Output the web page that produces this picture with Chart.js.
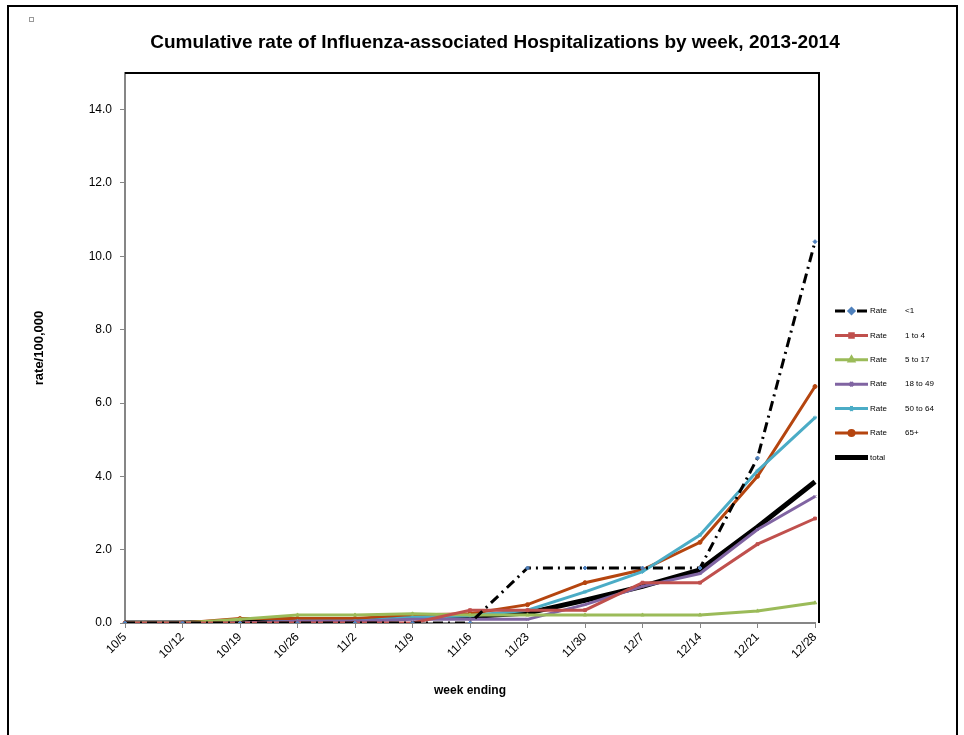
<!DOCTYPE html>
<html>
<head>
<meta charset="utf-8">
<script src="https://cdn.jsdelivr.net/npm/chart.js@4/dist/chart.umd.min.js"></script>
<style>
  html, body { margin: 0; padding: 0; background: #fff; }
</style>
</head>
<body>
<canvas id="flu-chart" width="964" height="735"></canvas>
<script>
// ── Data ──────────────────────────────────────
const chartTitle = 'Cumulative rate of Influenza-associated Hospitalizations by week, 2013-2014';
const weeks = ['10/5', '10/12', '10/19', '10/26', '11/2', '11/9', '11/16', '11/23', '11/30', '12/7', '12/14', '12/21', '12/28'];
const ageGroups = ['<1', '1 to 4', '5 to 17', '18 to 49', '50 to 64', '65+'];

const rateUnder1  = [0, 0, 0, 0, 0, 0, 0, 1.5, 1.5, 1.5, 1.5, 4.5, 10.4];
const rate1to4    = [0, 0, 0, 0, 0, 0, 0.35, 0.35, 0.35, 1.1, 1.1, 2.15, 2.85];
const rate5to17   = [0, 0, 0.1, 0.22, 0.22, 0.25, 0.22, 0.22, 0.22, 0.22, 0.22, 0.33, 0.55];
const rate18to49  = [0, 0, 0, 0.05, 0.05, 0.1, 0.1, 0.1, 0.5, 1.0, 1.35, 2.55, 3.45];
const rate50to64  = [0, 0, 0, 0.05, 0.05, 0.15, 0.2, 0.35, 0.85, 1.4, 2.4, 4.15, 5.6];
const rate65plus  = [0, 0, 0.12, 0.12, 0.12, 0.22, 0.25, 0.5, 1.1, 1.45, 2.2, 4.0, 6.45];
const rateTotal   = [0, 0, 0.03, 0.08, 0.08, 0.15, 0.18, 0.27, 0.62, 1.0, 1.45, 2.62, 3.85];

const yTicks = [0, 2, 4, 6, 8, 10, 12, 14];

// ── Series styling ────────────────────────────
function series(label, data, color, style, extra) {
  return Object.assign({
    label,
    data,
    borderColor: color,
    backgroundColor: color,
    borderWidth: 3,
    pointStyle: style,
    pointRadius: 2,
    pointBorderWidth: 1,
    pointBorderColor: color,
    pointBackgroundColor: color,
    tension: 0
  }, extra || {});
}

const datasets = [
  series(ageGroups[0], rateUnder1, '#000000', 'rectRot', {
    borderDash: [10, 5, 2, 5], pointBorderColor: '#4F81BD', pointBackgroundColor: '#4F81BD'
  }),
  series(ageGroups[1], rate1to4, '#C0504D', 'rect'),
  series(ageGroups[2], rate5to17, '#9BBB59', 'triangle'),
  series(ageGroups[3], rate18to49, '#8064A2', 'crossRot'),
  series(ageGroups[4], rate50to64, '#4BACC6', 'star'),
  series(ageGroups[5], rate65plus, '#B5450F', 'circle'),
  series('total', rateTotal, '#000000', false, { borderWidth: 5, pointRadius: 0 })
];

const FONT = '"Liberation Sans", Arial, sans-serif';

// ── Title, frame, legend and decorations ──────
const decorations = {
  id: 'decorations',
  afterDraw(chart) {
    const ctx = chart.ctx;
    const a = chart.chartArea;
    ctx.save();

    // outer chart border
    ctx.strokeStyle = '#000';
    ctx.lineWidth = 2;
    ctx.strokeRect(8, 6, 949, 740);

    // tiny square top-left
    ctx.strokeStyle = '#999';
    ctx.lineWidth = 1;
    ctx.strokeRect(29.5, 17.5, 4, 4);

    // title
    ctx.fillStyle = '#000';
    ctx.font = 'bold 19px ' + FONT;
    ctx.textAlign = 'center';
    ctx.textBaseline = 'middle';
    ctx.fillText(chartTitle, 495, 43);

    // plot frame top and right
    ctx.strokeStyle = '#000';
    ctx.lineWidth = 2;
    ctx.beginPath();
    ctx.moveTo(a.left, a.top);
    ctx.lineTo(a.right + 4, a.top);
    ctx.lineTo(a.right + 4, a.bottom);
    ctx.stroke();

    // legend
    const x0 = a.right + 20, x1 = x0 + 33;
    chart.data.datasets.forEach((ds, i) => {
      const y = 311 + i * 24.4;
      ctx.strokeStyle = ds.borderColor;
      ctx.lineWidth = ds.borderWidth;
      ctx.setLineDash(ds.borderDash || []);
      ctx.beginPath();
      ctx.moveTo(x0, y);
      ctx.lineTo(x1, y);
      ctx.stroke();
      ctx.setLineDash([]);
      if (ds.pointStyle) {
        ctx.fillStyle = ds.pointBackgroundColor;
        ctx.strokeStyle = ds.pointBorderColor;
        Chart.helpers.drawPoint(ctx, {
          pointStyle: ds.pointStyle, radius: 2.5, rotation: 0, borderWidth: 1
        }, (x0 + x1) / 2, y);
      }
      ctx.fillStyle = '#000';
      ctx.font = '8px ' + FONT;
      ctx.textBaseline = 'middle';
      ctx.textAlign = 'left';
      if (i < ageGroups.length) {
        ctx.fillText('Rate', x1 + 2, y);
        ctx.fillText(ds.label, x1 + 37, y);
      } else {
        ctx.fillText(ds.label, x1 + 2, y);
      }
    });
    ctx.restore();
  }
};

// ── Chart ─────────────────────────────────────
const axisGrey = '#868686';
const labelFont = { family: FONT, size: 12 };

new Chart(document.getElementById('flu-chart'), {
  type: 'line',
  data: { labels: weeks, datasets },
  plugins: [decorations],
  options: {
    responsive: false,
    animation: false,
    layout: { padding: { left: 0, right: 149, top: 73, bottom: 0 } },
    plugins: {
      legend: { display: false },
      tooltip: { enabled: false },
      title: { display: false }
    },
    scales: {
      x: {
        offset: false,
        afterFit: s => { s.height = 112; },
        border: { color: axisGrey, width: 2 },
        grid: { drawOnChartArea: false, drawTicks: true, tickLength: 5, color: axisGrey },
        ticks: { color: '#000', font: labelFont, minRotation: 45, maxRotation: 45, autoSkip: false, padding: 2 },
        title: {
          display: true, text: 'week ending', color: '#000',
          font: { family: FONT, size: 12, weight: 'bold' },
          padding: 37
        }
      },
      y: {
        min: 0,
        max: 15,
        afterFit: s => { s.width = 125; },
        afterBuildTicks: s => { s.ticks = yTicks.map(v => ({ value: v })); },
        border: { color: axisGrey, width: 2 },
        grid: { drawOnChartArea: false, drawTicks: true, tickLength: 5, color: axisGrey },
        ticks: { color: '#000', font: labelFont, padding: 8, callback: v => Number(v).toFixed(1) },
        title: {
          display: true, text: 'rate/100,000', color: '#000',
          font: { family: FONT, size: 13, weight: 'bold' },
          padding: { top: 32, bottom: 0 }
        }
      }
    }
  }
});
</script>
</body>
</html>
